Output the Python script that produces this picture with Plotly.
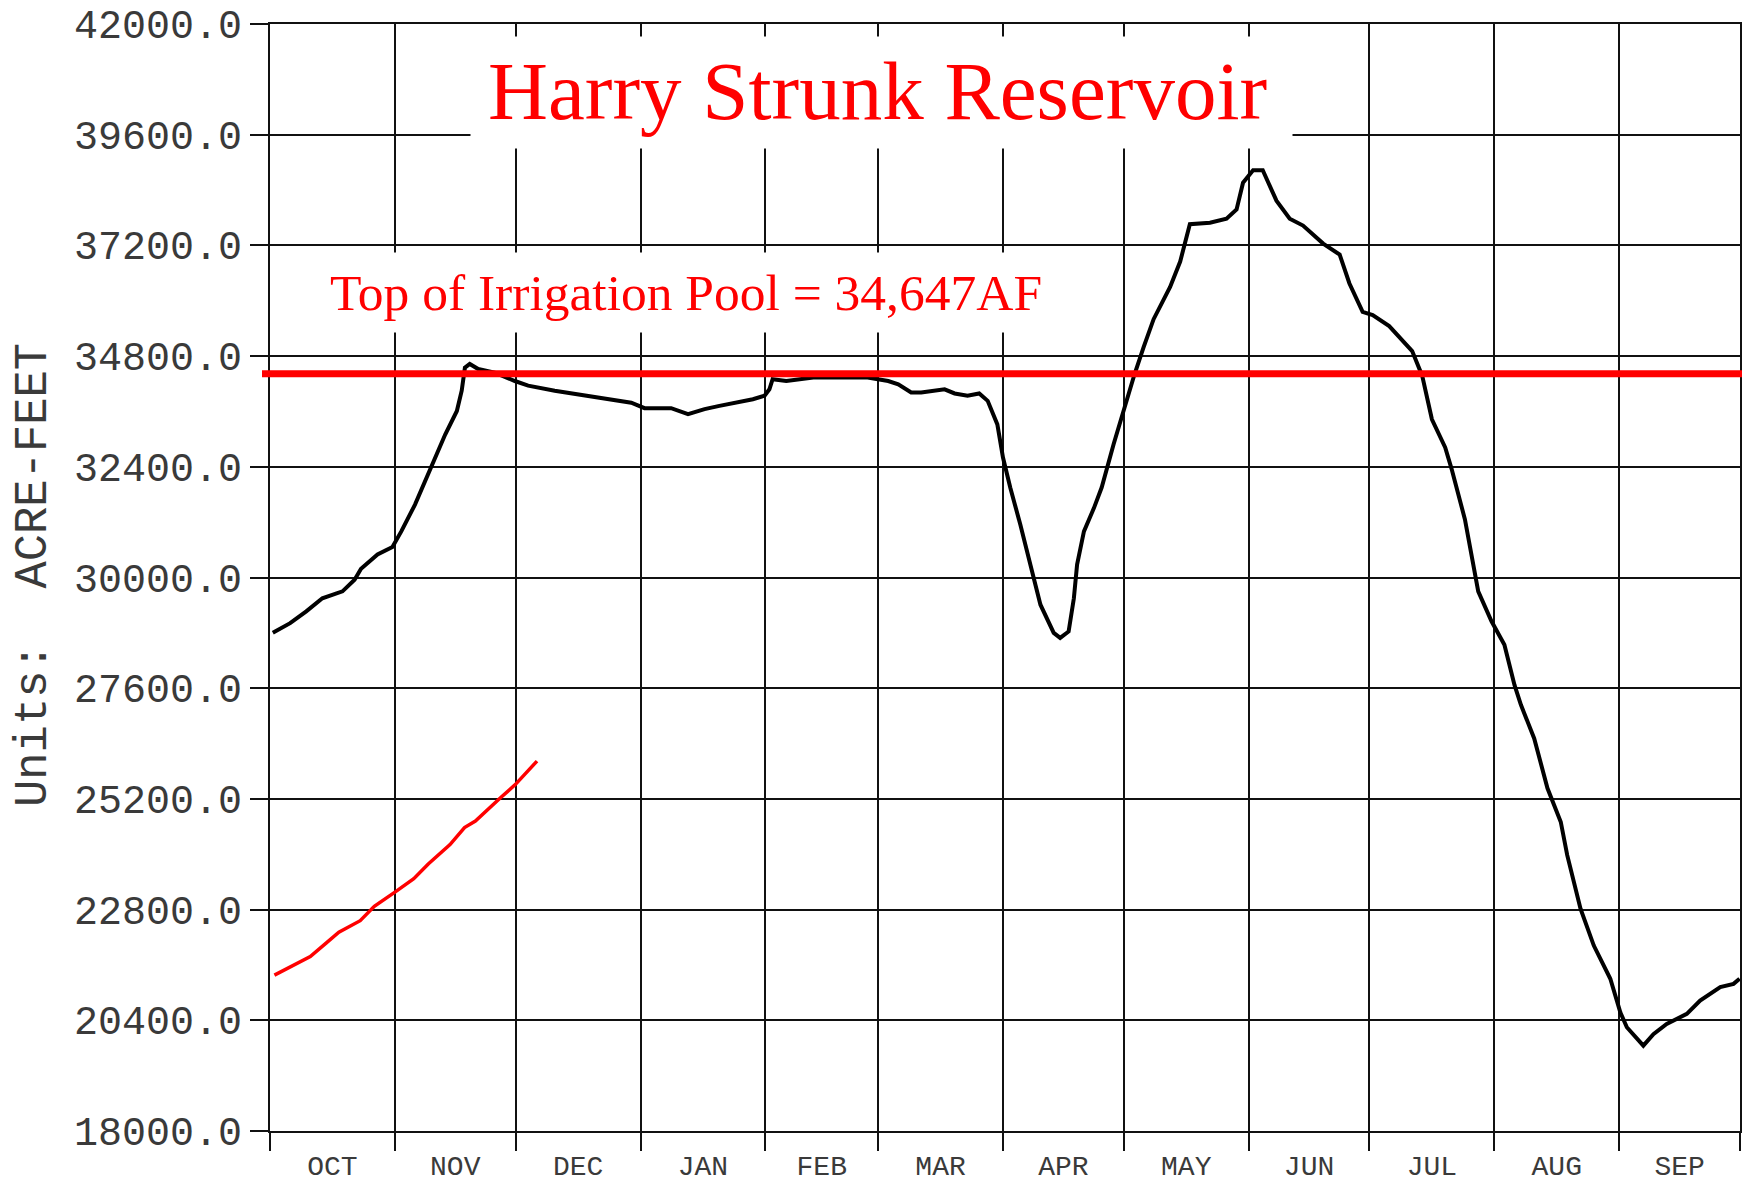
import pandas as pd
import plotly.graph_objects as go

# ---------------- data ----------------
WY_START = "2018-10-01"

# Historic (last water year) storage, acre-feet, by day of water year
hist_day = [0.7, 5, 9, 13, 18, 21, 22.6, 26.7, 30.4, 32.6, 36, 40, 43.5, 46.4, 47.6, 48.4,
            49.6, 51.7, 55.8, 60.8, 64.1, 70.7, 79, 84.7, 89.7, 93, 99.6, 103.8, 107.9,
            111.6, 115.8, 119.9, 122.8, 124, 124.8, 128.2, 134.9, 148.4, 153.5, 156, 159.2,
            161.7, 167.5, 170, 173.2, 176.1, 178.2, 180.6, 182, 183.8, 186.3, 188.8, 191.3,
            194.6, 196.2, 198.3, 199.6, 200.4, 202.1, 204.6, 206.5, 209.5, 212, 214.6, 216.9,
            219.4, 223.5, 226, 228.4, 233.4, 237.5, 240, 241.6, 244.1, 246.5, 249.9, 253.2,
            256.5, 261.5, 265.6, 268, 271.3, 273.8, 277.9, 283.6, 286.1, 288.5, 291.8, 293.4,
            296.7, 300, 303.3, 306.5, 309, 310.6, 313.9, 317.2, 320.5, 322.1, 325.4, 328.7,
            332.8, 335.3, 336.9, 341, 343.5, 346.8, 351.8, 355.1, 360.1, 363.4, 364.9]
hist_af = [28800, 29010, 29265, 29550, 29700, 29950, 30190, 30500, 30660, 31000, 31580, 32380,
           33100, 33610, 34050, 34550, 34630, 34520, 34440, 34260, 34160, 34050, 33940, 33865,
           33790, 33670, 33670, 33540, 33650, 33720, 33790, 33865, 33940, 34080, 34300, 34260,
           34335, 34335, 34260, 34190, 34010, 34010, 34080, 33990, 33940, 33990, 33830, 33320,
           32600, 31950, 31150, 30280, 29410, 28800, 28690, 28830, 29550, 30280, 31000, 31510,
           31950, 32900, 33650, 34390, 34990, 35600, 36300, 36850, 37660, 37690, 37780, 37980,
           38560, 38830, 38830, 38170, 37780, 37630, 37240, 37000, 36380, 35760, 35690, 35450,
           34910, 34370, 33430, 32820, 32350, 31260, 29700, 29050, 28540, 27670, 27240, 26510,
           25430, 24700, 23980, 22820, 22020, 21300, 20570, 20250, 19850, 20100, 20320, 20540,
           20830, 21120, 21190, 21300]

# Current water year storage, acre-feet
curr_day = [1.1, 6.4, 10, 14, 17.1, 22.4, 25.9, 31.2, 35.7, 39.3, 44.7, 48.3, 51, 57.3, 60.9, 66.3]
curr_af = [21380, 21610, 21780, 22080, 22310, 22560, 22870, 23190, 23470, 23790, 24210, 24580,
           24720, 25230, 25510, 26020]

# Top of irrigation pool line (as drawn in the picture)
pool_level = [34415]

y_tick_vals = [18000, 20400, 22800, 25200, 27600, 30000, 32400, 34800, 37200, 39600, 42000]
month_labels = ["OCT", "NOV", "DEC", "JAN", "FEB", "MAR", "APR", "MAY", "JUN", "JUL", "AUG", "SEP"]

title_text = "Harry Strunk Reservoir"
pool_text = "Top of Irrigation Pool = 34,647AF"
y_title = "Units:  ACRE-FEET"

# ---------------- build ----------------
start = pd.Timestamp(WY_START)
to_dates = lambda days: [(start + pd.Timedelta(days=d)).strftime("%Y-%m-%d %H:%M") for d in days]
month_starts = list(pd.date_range(WY_START, periods=13, freq="MS"))
mid_months = [(a + (b - a) / 2).strftime("%Y-%m-%d %H:%M") for a, b in zip(month_starts[:-1], month_starts[1:])]
month_start_str = [m.strftime("%Y-%m-%d") for m in month_starts]

fig = go.Figure()
fig.add_trace(go.Scatter(x=to_dates(hist_day), y=hist_af, mode="lines",
                         line=dict(color="black", width=4), showlegend=False))
fig.add_trace(go.Scatter(x=to_dates(curr_day), y=curr_af, mode="lines",
                         line=dict(color="#ff0000", width=3.5), showlegend=False))

# page has an 8 px body margin; figure placed so the plot lands where the reference has it
OFF = 8
W, H = 1742, 1173
L, R, T, B = 262, 10, 16, 50
PW, PH = W - L - R, H - T - B
px = lambda X: (X - OFF - L) / PW          # screen pixel -> paper x
py = lambda Y: (H - B - (Y - OFF)) / PH    # screen pixel -> paper y

grid_col = "#111111"
lab_col = "#3a3a3a"

fig.update_layout(
    width=W, height=H,
    margin=dict(l=L, r=R, t=T, b=B, pad=0, autoexpand=False),
    paper_bgcolor="white", plot_bgcolor="white",
    xaxis=dict(
        type="date", range=[month_start_str[0], month_start_str[-1]], automargin=False,
        tickmode="array", tickvals=mid_months, ticktext=month_labels,
        ticks="outside", ticklen=5, tickcolor="rgba(0,0,0,0)",
        showgrid=False, zeroline=False,
        showline=True, mirror=True, linecolor=grid_col, linewidth=2,
        tickfont=dict(family="Liberation Mono", size=28, color=lab_col),
        ticklabelstandoff=3, ticklabeloverflow="allow",
        minor=dict(tickmode="array", tickvals=month_start_str, ticks="outside", ticklen=18,
                   tickcolor=grid_col, tickwidth=2, showgrid=True, gridcolor=grid_col, gridwidth=2),
    ),
    yaxis=dict(
        range=[18000, 42000], tickmode="array", tickvals=y_tick_vals, tickformat=".1f",
        automargin=False,
        ticks="outside", ticklen=18, tickcolor=grid_col, tickwidth=2,
        showgrid=True, gridcolor=grid_col, gridwidth=2, zeroline=False,
        showline=True, mirror=True, linecolor=grid_col, linewidth=2,
        tickfont=dict(family="Liberation Mono", size=40, color=lab_col),
        ticklabelstandoff=0, ticklabeloverflow="allow",
    ),
    shapes=[
        dict(type="line", xref="paper", yref="y", x0=px(262), x1=px(1752), y0=pool_level[0], y1=pool_level[0],
             line=dict(color="#ff0000", width=7), layer="above"),
    ],
    annotations=[
        dict(text=" ", xref="paper", yref="paper", x=px(881.5), y=py(92.5), xanchor="center",
             yanchor="middle", showarrow=False, width=821, height=111, bgcolor="white", borderpad=0),
        dict(text=title_text, xref="paper", yref="paper", x=px(877), y=py(91), xanchor="center",
             yanchor="middle", showarrow=False,
             font=dict(family="Liberation Serif", size=83, color="#ff0000")),
        dict(text=pool_text, xref="paper", yref="paper", x=px(686), y=py(293), xanchor="center",
             yanchor="middle", showarrow=False, width=816, height=79, bgcolor="white",
             align="center", valign="middle", borderpad=0,
             font=dict(family="Liberation Serif", size=51.5, color="#ff0000")),
        dict(text=y_title, xref="paper", yref="paper", x=px(34), y=py(575), xanchor="center",
             yanchor="middle", showarrow=False, textangle=-90,
             font=dict(family="Liberation Mono", size=45.5, color=lab_col)),
    ],
)

fig.write_html("out.html", config={"displayModeBar": False})
